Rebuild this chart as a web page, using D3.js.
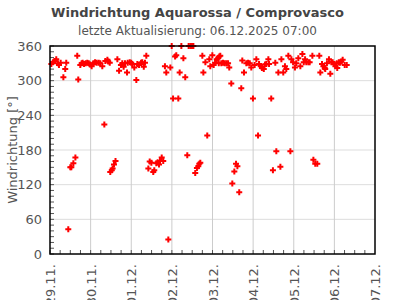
<!DOCTYPE html>
<html>
<head>
<meta charset="utf-8">
<script src="https://cdn.jsdelivr.net/npm/d3@7"></script>
<style>
    body { margin: 0; background: #fff; }
    text { font-family: "DejaVu Sans", sans-serif; }
</style>
</head>
<body>
<svg id="chart" width="395" height="300"></svg>
<script>
// Texts
const title = "Windrichtung Aquarossa / Comprovasco";
const subtitle = "letzte Aktualisierung: 06.12.2025 07:00";
const yTitle = "Windrichtung [°]";

// Time range (UTC) and ticks
const startDate = "2025-11-29T00:00:00Z";
const endDate = "2025-12-07T00:00:00Z";
const yTicks = [0, 60, 120, 180, 240, 300, 360];

// Hours after 29.11. 00:00 and wind direction in degrees
const hours = [
    0.8, 1.8, 2.8, 3.7, 4.7, 5.3, 6.3, 7.9, 9.0, 9.6,
    10.8, 12.0, 12.6, 13.8, 15.0, 16.1, 16.7, 17.9, 18.7, 19.3,
    20.1, 21.1, 22.0, 22.9, 23.8, 24.6, 25.6, 26.6, 27.6, 28.8,
    29.7, 30.9, 32.1, 32.7, 33.9, 34.4, 35.3, 35.6, 36.5, 37.0,
    37.8, 38.7, 39.8, 40.8, 41.9, 42.7, 43.5, 44.3, 45.5, 45.9,
    47.1, 48.0, 48.6, 49.8, 51.0, 51.6, 52.6, 53.8, 54.5, 55.4,
    56.1, 56.9, 58.1, 58.9, 59.9, 61.0, 61.6, 62.8, 63.6, 64.4,
    65.0, 66.0, 66.9, 67.9, 68.7, 69.9, 71.1, 71.9, 72.7, 73.9,
    74.6, 75.8, 76.6, 77.6, 78.8, 79.9, 81.1, 81.9, 82.9, 83.9,
    84.7, 85.8, 86.8, 87.6, 88.2, 88.8, 90.0, 90.6, 91.8, 92.9,
    94.1, 94.7, 95.9, 96.7, 97.5, 98.5, 99.3, 99.7, 100.0, 100.6,
    101.2, 102.2, 103.2, 104.2, 105.2, 105.9, 107.1, 107.7, 108.9, 109.9,
    110.7, 111.8, 113.0, 113.6, 114.6, 116.0, 117.0, 118.0, 118.9, 119.9,
    120.9, 121.9, 122.9, 123.5, 124.5, 125.2, 126.3, 127.0, 127.8, 129.0,
    129.4, 130.7, 131.7, 133.1, 133.7, 134.9, 136.1, 136.7, 137.8, 138.8,
    139.6, 140.8, 142.0, 142.6, 143.6, 144.7, 145.5, 146.7, 147.9, 149.1,
    149.9, 150.7, 151.4, 152.6, 153.4, 155.0, 155.6, 156.7, 157.9, 159.1,
    159.7, 160.7, 161.5, 162.3, 162.6, 163.6, 164.8, 165.6, 166.2, 167.0,
    167.8, 168.6, 169.4, 169.7, 170.6, 171.3, 172.1, 172.9, 174.1, 175.3
];
const directions = [
    329, 332, 334, 337, 330, 327, 331, 306, 320, 331,
    43, 150, 150, 157, 167, 343, 302, 327, 330, 331,
    329, 330, 331, 330, 328, 325, 330, 332, 331, 331,
    330, 325, 224, 334, 336, 333, 331, 142, 145, 148,
    155, 161, 337, 317, 327, 330, 324, 330, 314, 331,
    332, 331, 329, 323, 301, 329, 327, 331, 332, 324,
    331, 343, 148, 160, 158, 142, 145, 157, 159, 155,
    161, 167, 161, 325, 314, 25, 323, 360, 269, 342,
    344, 269, 314, 360, 339, 306, 171, 360, 360, 360,
    360, 140, 149, 152, 156, 158, 343, 314, 332, 205,
    337, 325, 344, 327, 331, 337, 339, 330, 342, 343,
    330, 331, 330, 330, 330, 323, 295, 122, 143, 156,
    152, 107, 287, 335, 314, 330, 331, 330, 323, 269,
    327, 337, 205, 329, 325, 322, 320, 328, 329, 337,
    329, 269, 145, 331, 178, 314, 151, 337, 314, 325,
    320, 343, 178, 337, 332, 323, 330, 339, 325, 346,
    332, 337, 332, 332, 332, 343, 163, 156, 156, 343,
    314, 329, 325, 322, 320, 330, 337, 312, 332, 332,
    329, 325, 330, 322, 332, 331, 333, 336, 327, 327
];

const width = 395;
const height = 300;
const margin = { top: 46, right: 20, bottom: 46, left: 50 };

const t0 = new Date(startDate);
const data = hours.map((h, i) => ({
    date: new Date(t0.getTime() + h * 3600 * 1000),
    dir: directions[i],
}));

const $svg = d3.select("#chart");

const x = d3.scaleUtc()
    .domain([t0, new Date(endDate)])
    .range([margin.left, width - margin.right]);

const y = d3.scaleLinear()
    .domain([0, 360])
    .range([height - margin.bottom, margin.top]);

const textColor = "#555";

// Titles
$svg.append("text")
    .attr("x", width / 2)
    .attr("y", 17)
    .attr("text-anchor", "middle")
    .attr("font-size", 13)
    .attr("font-weight", "bold")
    .attr("fill", "#444")
    .text(title);

$svg.append("text")
    .attr("x", width / 2)
    .attr("y", 35)
    .attr("text-anchor", "middle")
    .attr("font-size", 12)
    .attr("fill", textColor)
    .text(subtitle);

// Grid
const days = d3.utcDay.range(t0, new Date(endDate));
$svg.append("g")
    .selectAll("line")
    .data(yTicks.slice(1, -1))
    .join("line")
        .attr("x1", margin.left)
        .attr("x2", width - margin.right)
        .attr("y1", d => y(d))
        .attr("y2", d => y(d))
        .attr("stroke", "#ddd");

$svg.append("g")
    .selectAll("line")
    .data(days.slice(1))
    .join("line")
        .attr("x1", d => x(d))
        .attr("x2", d => x(d))
        .attr("y1", margin.top)
        .attr("y2", height - margin.bottom)
        .attr("stroke", "#ccc");

// Minor ticks (inside the plot)
const yMinor = d3.range(0, 361, 10);
$svg.append("g")
    .selectAll("line")
    .data(yMinor)
    .join("line")
        .attr("x1", margin.left)
        .attr("x2", margin.left + 4)
        .attr("y1", d => y(d))
        .attr("y2", d => y(d))
        .attr("stroke", textColor);

const xMinor = d3.utcHour.every(6).range(t0, new Date(endDate));
$svg.append("g")
    .selectAll("line")
    .data(xMinor)
    .join("line")
        .attr("x1", d => x(d))
        .attr("x2", d => x(d))
        .attr("y1", height - margin.bottom)
        .attr("y2", height - margin.bottom - 4)
        .attr("stroke", textColor);

// Axis labels
const yAxis = d3.axisLeft(y).tickValues(yTicks).tickSize(0).tickPadding(8);
const $yAxis = $svg.append("g")
    .attr("transform", `translate(${margin.left},0)`)
    .call(yAxis);
$yAxis.select(".domain").remove();
$yAxis.selectAll("text")
    .attr("font-size", 13)
    .attr("font-family", "DejaVu Sans")
    .attr("fill", textColor);

const xAxis = d3.axisBottom(x)
    .tickValues(days.concat([new Date(endDate)]))
    .tickFormat(d3.utcFormat("%d.%m."))
    .tickSize(0);
const $xAxis = $svg.append("g")
    .attr("transform", `translate(0,${height - margin.bottom})`)
    .call(xAxis);
$xAxis.select(".domain").remove();
$xAxis.selectAll("text")
    .attr("font-size", 13)
    .attr("font-family", "DejaVu Sans")
    .attr("fill", textColor)
    .attr("text-anchor", "end")
    .attr("transform", "rotate(-90)")
    .attr("x", -10)
    .attr("y", 0)
    .attr("dy", "0.35em");

// Y title
$svg.append("text")
    .attr("transform", `translate(12,${(margin.top + height - margin.bottom) / 2}) rotate(-90)`)
    .attr("text-anchor", "middle")
    .attr("dy", "0.35em")
    .attr("font-size", 13)
    .attr("fill", textColor)
    .text(yTitle);

// Points
$svg.append("g")
    .selectAll("path")
    .data(data)
    .join("path")
        .attr("transform", d => `translate(${x(d.date)},${y(d.dir)})`)
        .attr("d", d3.symbol(d3.symbolCross, 20))
        .attr("fill", "#ff0000");

// Frame
$svg.append("rect")
    .attr("x", margin.left)
    .attr("y", margin.top)
    .attr("width", width - margin.left - margin.right)
    .attr("height", height - margin.top - margin.bottom)
    .attr("fill", "none")
    .attr("stroke", "#000")
    .attr("stroke-width", 1.5);
</script>
</body>
</html>
